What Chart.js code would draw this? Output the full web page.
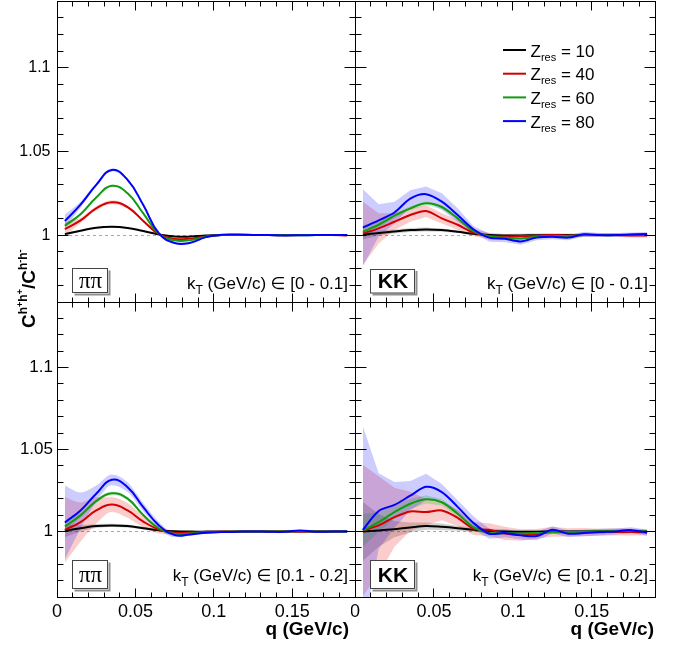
<!DOCTYPE html>
<html>
<head>
<meta charset="utf-8">
<script src="https://cdn.jsdelivr.net/npm/chart.js@4.4.0/dist/chart.umd.min.js"></script>
<style>
  body { margin: 0; background: #fff; }
  #wrap { position: relative; width: 685px; height: 648px; overflow: hidden; }
  canvas { position: absolute; top: 0; }
</style>
</head>
<body>
<div id="wrap">
  <canvas id="tl" width="685" height="648" style="left:0"></canvas>
  <canvas id="bl" width="685" height="648" style="left:0"></canvas>
  <canvas id="tr" width="334" height="648" style="left:351px"></canvas>
  <canvas id="br" width="334" height="648" style="left:351px"></canvas>
</div>
<script>
// q bin centres (GeV/c)
const q = [0.005, 0.015, 0.025, 0.035, 0.045, 0.055, 0.065, 0.075, 0.085, 0.095,
           0.105, 0.115, 0.125, 0.135, 0.145, 0.155, 0.165, 0.175, 0.185];
const zres = [10, 40, 60, 80];
const yLabelValues = [1, 1.05, 1.1];
const xLabelValues = [0, 0.05, 0.1, 0.15];

// pi pi, kT in [0 - 0.1]
const pi1_z10 = [1.0006, 1.0026, 1.0044, 1.0050, 1.0043, 1.0024, 1.0004, 0.9992, 0.9991, 0.9997, 1.0000, 1.0000, 1.0000, 1.0000, 1.0000, 1.0000, 1.0000, 1.0000, 1.0000];
const pi1_z40 = [1.0036, 1.0088, 1.0160, 1.0196, 1.0168, 1.0085, 1.0006, 0.9977, 0.9979, 0.9992, 1.0000, 1.0001, 1.0001, 1.0000, 0.9999, 1.0000, 1.0000, 1.0001, 0.9998];
const pi1_z60 = [1.0056, 1.0125, 1.0225, 1.0295, 1.0250, 1.0130, 1.0008, 0.9969, 0.9970, 0.9990, 1.0000, 1.0002, 1.0001, 1.0000, 0.9999, 0.9999, 1.0000, 1.0000, 1.0000];
const pi1_z80 = [1.0084, 1.0182, 1.0300, 1.0390, 1.0330, 1.0180, 1.0010, 0.9953, 0.9954, 0.9988, 1.0002, 1.0003, 1.0001, 1.0000, 0.9998, 0.9999, 1.0000, 1.0001, 1.0000];
const pi1_z10_err = [0.0008, 0.0005, 0.0004, 0.0004, 0.0004, 0.0003, 0.0003, 0.0003, 0.0002, 0.0002, 0.0002, 0.0002, 0.0002, 0.0002, 0.0002, 0.0002, 0.0002, 0.0002, 0.0002];
const pi1_z40_err = [0.0040, 0.0015, 0.0012, 0.0012, 0.0010, 0.0008, 0.0006, 0.0005, 0.0004, 0.0003, 0.0003, 0.0003, 0.0003, 0.0003, 0.0003, 0.0003, 0.0003, 0.0003, 0.0003];
const pi1_z60_err = [0.0015, 0.0008, 0.0006, 0.0006, 0.0005, 0.0005, 0.0004, 0.0004, 0.0003, 0.0003, 0.0003, 0.0003, 0.0003, 0.0003, 0.0003, 0.0003, 0.0003, 0.0003, 0.0003];
const pi1_z80_err = [0.0040, 0.0018, 0.0010, 0.0008, 0.0007, 0.0006, 0.0005, 0.0004, 0.0004, 0.0003, 0.0003, 0.0003, 0.0003, 0.0003, 0.0003, 0.0003, 0.0003, 0.0003, 0.0003];

// K K, kT in [0 - 0.1]
const k1_z10 = [1.0004, 1.0012, 1.0022, 1.0030, 1.0034, 1.0030, 1.0020, 1.0008, 1.0000, 0.9998, 0.9998, 0.9999, 1.0000, 1.0000, 1.0000, 1.0000, 1.0000, 1.0000, 1.0000];
const k1_z40 = [1.0010, 1.0040, 1.0080, 1.0120, 1.0144, 1.0100, 1.0062, 1.0015, 0.9994, 0.9992, 0.9994, 0.9996, 1.0000, 0.9998, 1.0000, 1.0000, 1.0000, 0.9998, 0.9998];
const k1_z60 = [1.0020, 1.0062, 1.0116, 1.0160, 1.0190, 1.0168, 1.0100, 1.0025, 0.9992, 0.9985, 0.9980, 0.9990, 0.9995, 0.9995, 1.0000, 1.0000, 1.0000, 1.0002, 1.0004];
const k1_z80 = [1.0045, 1.0088, 1.0135, 1.0218, 1.0245, 1.0200, 1.0120, 1.0035, 0.9985, 0.9978, 0.9962, 0.9985, 0.9990, 0.9985, 1.0005, 1.0000, 1.0000, 1.0003, 1.0006];
const k1_z10_err = [0.0030, 0.0015, 0.0012, 0.0012, 0.0012, 0.0010, 0.0008, 0.0006, 0.0005, 0.0005, 0.0004, 0.0004, 0.0004, 0.0004, 0.0004, 0.0004, 0.0004, 0.0004, 0.0004];
const k1_z40_err = [0.0190, 0.0090, 0.0050, 0.0040, 0.0035, 0.0030, 0.0030, 0.0020, 0.0020, 0.0015, 0.0015, 0.0015, 0.0012, 0.0012, 0.0012, 0.0012, 0.0012, 0.0012, 0.0012];
const k1_z60_err = [0.0040, 0.0020, 0.0015, 0.0012, 0.0012, 0.0012, 0.0010, 0.0010, 0.0008, 0.0008, 0.0008, 0.0008, 0.0008, 0.0008, 0.0008, 0.0008, 0.0008, 0.0008, 0.0008];
const k1_z80_err = [0.0230, 0.0096, 0.0065, 0.0050, 0.0045, 0.0050, 0.0040, 0.0020, 0.0025, 0.0020, 0.0020, 0.0015, 0.0015, 0.0015, 0.0015, 0.0012, 0.0012, 0.0012, 0.0012];

// pi pi, kT in [0.1 - 0.2]
const pi2_z10 = [1.0004, 1.0020, 1.0033, 1.0037, 1.0033, 1.0020, 1.0008, 1.0001, 0.9999, 0.9999, 1.0000, 1.0000, 1.0000, 1.0000, 1.0000, 1.0000, 1.0000, 1.0000, 1.0000];
const pi2_z40 = [1.0010, 1.0057, 1.0128, 1.0164, 1.0128, 1.0060, 1.0012, 0.9992, 0.9993, 0.9996, 0.9998, 0.9999, 1.0000, 1.0000, 1.0000, 1.0000, 1.0000, 1.0000, 1.0002];
const pi2_z60 = [1.0030, 1.0098, 1.0185, 1.0233, 1.0200, 1.0100, 1.0018, 0.9986, 0.9988, 0.9994, 0.9997, 0.9999, 1.0000, 1.0000, 0.9999, 1.0002, 1.0000, 1.0000, 1.0001];
const pi2_z80 = [1.0055, 1.0128, 1.0230, 1.0315, 1.0270, 1.0148, 1.0037, 0.9978, 0.9982, 0.9992, 0.9996, 0.9998, 1.0000, 0.9998, 0.9998, 1.0006, 0.9998, 0.9999, 1.0000];
const pi2_z10_err = [0.0040, 0.0020, 0.0012, 0.0010, 0.0010, 0.0008, 0.0006, 0.0005, 0.0004, 0.0003, 0.0003, 0.0003, 0.0003, 0.0003, 0.0003, 0.0003, 0.0003, 0.0003, 0.0003];
const pi2_z40_err = [0.0200, 0.0120, 0.0080, 0.0045, 0.0045, 0.0035, 0.0025, 0.0012, 0.0010, 0.0008, 0.0006, 0.0006, 0.0006, 0.0006, 0.0006, 0.0006, 0.0006, 0.0006, 0.0006];
const pi2_z60_err = [0.0030, 0.0015, 0.0010, 0.0010, 0.0010, 0.0008, 0.0006, 0.0005, 0.0004, 0.0004, 0.0004, 0.0004, 0.0004, 0.0004, 0.0004, 0.0004, 0.0004, 0.0004, 0.0004];
const pi2_z80_err = [0.0225, 0.0110, 0.0050, 0.0033, 0.0030, 0.0025, 0.0020, 0.0012, 0.0008, 0.0006, 0.0005, 0.0005, 0.0005, 0.0005, 0.0005, 0.0005, 0.0005, 0.0005, 0.0005];

// K K, kT in [0.1 - 0.2]
const k2_z10 = [1.0000, 1.0006, 1.0014, 1.0024, 1.0033, 1.0028, 1.0020, 1.0010, 1.0002, 0.9999, 0.9998, 0.9998, 1.0000, 1.0000, 1.0000, 1.0000, 1.0000, 1.0000, 1.0000];
const k2_z40 = [1.0006, 1.0037, 1.0087, 1.0122, 1.0118, 1.0128, 1.0083, 1.0018, 1.0010, 0.9988, 0.9978, 0.9985, 0.9998, 0.9994, 0.9996, 0.9995, 0.9998, 0.9996, 0.9995];
const k2_z60 = [1.0006, 1.0057, 1.0118, 1.0169, 1.0196, 1.0178, 1.0108, 1.0026, 0.9990, 0.9990, 0.9988, 0.9990, 0.9995, 0.9996, 0.9998, 1.0000, 1.0003, 1.0005, 0.9998];
const k2_z80 = [1.0010, 1.0125, 1.0162, 1.0218, 1.0272, 1.0240, 1.0150, 1.0052, 0.9986, 0.9990, 0.9976, 0.9972, 1.0010, 0.9986, 0.9990, 0.9996, 1.0000, 1.0008, 0.9992];
const k2_z10_err = [0.0180, 0.0100, 0.0050, 0.0030, 0.0022, 0.0020, 0.0015, 0.0012, 0.0010, 0.0008, 0.0008, 0.0008, 0.0008, 0.0008, 0.0008, 0.0008, 0.0008, 0.0008, 0.0008];
const k2_z40_err = [0.0400, 0.0300, 0.0180, 0.0120, 0.0080, 0.0060, 0.0050, 0.0040, 0.0040, 0.0040, 0.0035, 0.0030, 0.0030, 0.0025, 0.0025, 0.0022, 0.0022, 0.0020, 0.0020];
const k2_z60_err = [0.0100, 0.0060, 0.0040, 0.0030, 0.0025, 0.0020, 0.0018, 0.0015, 0.0012, 0.0010, 0.0010, 0.0010, 0.0010, 0.0010, 0.0010, 0.0010, 0.0010, 0.0010, 0.0010];
const k2_z80_err = [0.0630, 0.0230, 0.0140, 0.0090, 0.0080, 0.0050, 0.0040, 0.0040, 0.0030, 0.0025, 0.0025, 0.0025, 0.0022, 0.0020, 0.0020, 0.0020, 0.0018, 0.0018, 0.0018];

const SANS = "'Liberation Sans', 'DejaVu Sans', Arial, sans-serif";
const SERIF = "'Liberation Serif', 'DejaVu Serif', serif";
Chart.defaults.font.family = SANS;
Chart.defaults.color = '#000';

const lineColors = ['#000000', '#d40000', '#129b12', '#0000ff'];
const bandColors = ['rgba(0,0,0,0.18)', 'rgba(230,0,0,0.2)', 'rgba(0,170,0,0.2)', 'rgba(0,0,255,0.2)'];

const pts = (vals, errs, sign) => q.map((x, k) => ({ x: x, y: vals[k] + (errs ? sign * errs[k] : 0) }));

const buildDatasets = (vals, errs, smooth) => {
  const sets = [];
  vals.forEach((v, i) => {
    const common = {
      borderColor: 'rgba(0,0,0,0)', borderWidth: 0, pointRadius: 0,
      tension: 0, cubicInterpolationMode: smooth ? 'monotone' : 'default', order: 10 - i,
    };
    sets.push({ ...common, data: pts(v, errs[i], 1), fill: '+1', backgroundColor: bandColors[i] });
    sets.push({ ...common, data: pts(v, errs[i], -1), fill: false });
  });
  vals.forEach((v, i) => {
    sets.push({
      data: pts(v), fill: false, borderColor: lineColors[i], borderWidth: 2,
      pointRadius: 0, tension: smooth ? 0.45 : 0.3, order: 4 - i,
    });
  });
  return sets;
};

const drawRich = (ctx, parts, x, y, align) => {
  const widths = parts.map((p) => { ctx.font = p.font; return ctx.measureText(p.t).width; });
  const total = widths.reduce((s, w) => s + w, 0);
  let cx = align === 'right' ? x - total : x;
  ctx.textAlign = 'left';
  ctx.textBaseline = 'alphabetic';
  parts.forEach((p, i) => {
    ctx.font = p.font;
    ctx.fillText(p.t, cx, y + (p.dy || 0));
    cx += widths[i];
  });
};

// ROOT-like frame: dashed line at 1, box, inward ticks on all four sides
const rootAxes = {
  id: 'rootAxes',
  beforeDatasetsDraw(chart) {
    const { ctx, chartArea: a, scales: { y } } = chart;
    const py = Math.floor(y.getPixelForValue(1)) + 0.5;
    ctx.save();
    ctx.strokeStyle = '#a8a8a8';
    ctx.lineWidth = 1;
    ctx.setLineDash([3, 3]);
    ctx.beginPath();
    ctx.moveTo(a.left, py);
    ctx.lineTo(a.right, py);
    ctx.stroke();
    ctx.restore();
  },
  afterDatasetsDraw(chart) {
    const { ctx, chartArea: a, scales: { x, y } } = chart;
    const L = Math.floor(a.left) + 0.5, R = Math.floor(a.right) + 0.5;
    const T = Math.floor(a.top) + 0.5, B = Math.floor(a.bottom) + 0.5;
    ctx.save();
    ctx.strokeStyle = '#000';
    ctx.lineWidth = 1;
    ctx.strokeRect(L, T, R - L, B - T);
    ctx.beginPath();
    y.ticks.forEach((t) => {
      const p = Math.floor(y.getPixelForValue(t.value)) + 0.5;
      const len = Math.round(t.value * 100) % 5 === 0 ? 11 : 6;
      ctx.moveTo(L, p); ctx.lineTo(L + len, p);
      ctx.moveTo(R, p); ctx.lineTo(R - len, p);
    });
    x.ticks.forEach((t) => {
      const p = Math.floor(x.getPixelForValue(t.value)) + 0.5;
      const len = Math.round(t.value * 100) % 5 === 0 ? 9 : 5;
      ctx.moveTo(p, B); ctx.lineTo(p, B - len);
      ctx.moveTo(p, T); ctx.lineTo(p, T + len);
    });
    ctx.stroke();
    ctx.restore();
  },
};

const panelText = {
  id: 'panelText',
  afterDraw(chart, args, o) {
    const { ctx, chartArea: a } = chart;
    ctx.save();
    ctx.fillStyle = '#000';

    // species box
    const bx = a.left + 15.5, by = a.bottom - o.boxTop, bw = o.boxW, bh = o.boxH;
    ctx.fillStyle = '#909090';
    ctx.fillRect(bx + 2, by + 2, bw, bh);
    ctx.fillStyle = '#fff';
    ctx.fillRect(bx, by, bw, bh);
    ctx.strokeStyle = '#444';
    ctx.lineWidth = 1;
    ctx.strokeRect(Math.floor(bx) + 0.5, Math.floor(by) + 0.5, bw - 1, bh - 1);
    ctx.fillStyle = '#000';
    ctx.font = o.speciesFont;
    ctx.textAlign = 'center';
    ctx.textBaseline = 'middle';
    ctx.fillText(o.species, bx + bw / 2, by + bh / 2 + 1);

    // kT range
    drawRich(ctx, [
      { t: 'k', font: `17px ${SANS}` },
      { t: 'T', font: `12px ${SANS}`, dy: 5 },
      { t: ' (GeV/c) \u2208 ' + o.kt, font: `17px ${SANS}` },
    ], a.right - 7, a.bottom - o.ktUp, 'right');

    if (o.legend) {
      zres.forEach((z, i) => {
        const cy = a.top + 49 + i * 23.7;
        ctx.strokeStyle = lineColors[i];
        ctx.lineWidth = 2;
        ctx.beginPath();
        ctx.moveTo(a.left + 148, cy);
        ctx.lineTo(a.left + 171, cy);
        ctx.stroke();
        ctx.fillStyle = '#000';
        drawRich(ctx, [
          { t: 'Z', font: `17px ${SANS}` },
          { t: 'res', font: `11px ${SANS}`, dy: 4 },
          { t: ' = ' + z, font: `17px ${SANS}` },
        ], a.left + 175.5, cy + 6.5, 'left');
      });
    }

    if (o.xTitle) {
      ctx.fillStyle = '#000';
      drawRich(ctx, [{ t: 'q (GeV/c)', font: `bold 19px ${SANS}` }], a.right - o.xTitleIn, 635, 'right');
    }

    if (o.yTitle) {
      const big = `bold 19px ${SANS}`, sup = `bold 12px ${SANS}`, sup2 = `bold 9px ${SANS}`;
      ctx.translate(35, 328);
      ctx.rotate(-Math.PI / 2);
      ctx.fillStyle = '#000';
      drawRich(ctx, [
        { t: 'C', font: big },
        { t: 'h', font: sup, dy: -8 }, { t: '+', font: sup2, dy: -12 },
        { t: 'h', font: sup, dy: -8 }, { t: '+', font: sup2, dy: -12 },
        { t: '/C', font: big },
        { t: 'h', font: sup, dy: -8 }, { t: '-', font: sup2, dy: -12 },
        { t: 'h', font: sup, dy: -8 }, { t: '-', font: sup2, dy: -12 },
      ], 0, 0, 'left');
    }
    ctx.restore();
  },
};

const makePanel = (id, p) => {
  const ctx = document.getElementById(id);
  return new Chart(ctx, {
    type: 'line',
    data: { datasets: buildDatasets(p.vals, p.errs, p.smooth) },
    plugins: [rootAxes, panelText],
    options: {
      responsive: false,
      animation: false,
      devicePixelRatio: 1,
      layout: { padding: p.pad },
      plugins: {
        legend: { display: false },
        tooltip: { enabled: false },
        panelText: p.text,
      },
      scales: {
        x: {
          type: 'linear', min: 0, max: 0.19,
          grid: { display: false, drawTicks: false }, border: { display: false },
          afterBuildTicks: (s) => { s.ticks = Array.from({ length: 20 }, (_, k) => ({ value: k / 100 })); },
          afterFit: (s) => { s.height = p.xHeight; s.paddingLeft = 0; s.paddingRight = 0; },
          ticks: {
            display: p.xLabels, autoSkip: false, maxRotation: 0, padding: 4,
            font: { size: 18 },
            callback: (v) => (xLabelValues.some((l) => Math.abs(l - v) < 1e-6) ? String(+v.toFixed(2)) : ''),
          },
        },
        y: {
          type: 'linear', min: 0.96, max: 1.14,
          grid: { display: false, drawTicks: false }, border: { display: false },
          afterBuildTicks: (s) => { s.ticks = Array.from({ length: 19 }, (_, k) => ({ value: (96 + k) / 100 })); },
          afterFit: (s) => { s.width = p.yWidth; s.paddingTop = 0; s.paddingBottom = 0; },
          ticks: {
            display: p.yLabels, autoSkip: false, padding: p.yPad,
            font: { size: p.yFont },
            callback: (v) => (yLabelValues.some((l) => Math.abs(l - v) < 1e-6) ? String(+v.toFixed(2)) : ''),
          },
        },
      },
    },
  });
};

makePanel('tl', {
  vals: [pi1_z10, pi1_z40, pi1_z60, pi1_z80],
  errs: [pi1_z10_err, pi1_z40_err, pi1_z60_err, pi1_z80_err],
  smooth: true,
  pad: { left: 0, top: 1, right: 330, bottom: 346 },
  xHeight: 0, yWidth: 57, xLabels: false, yLabels: true, yPad: 6.5, yFont: 16,
  text: { species: '\u03c0\u03c0', speciesFont: `23px ${SERIF}`, boxW: 36, boxTop: 33.5, boxH: 25, kt: '[0 - 0.1]', ktUp: 13, yTitle: true },
});

makePanel('bl', {
  vals: [pi2_z10, pi2_z40, pi2_z60, pi2_z80],
  errs: [pi2_z10_err, pi2_z40_err, pi2_z60_err, pi2_z80_err],
  smooth: true,
  pad: { left: 0, top: 302, right: 330, bottom: 0 },
  xHeight: 51, yWidth: 57, xLabels: true, yLabels: true, yPad: 4, yFont: 17,
  text: { species: '\u03c0\u03c0', speciesFont: `23px ${SERIF}`, boxW: 36, boxTop: 36.5, boxH: 29, kt: '[0.1 - 0.2]', ktUp: 16.5, xTitle: true, xTitleIn: 6 },
});

makePanel('tr', {
  vals: [k1_z10, k1_z40, k1_z60, k1_z80],
  errs: [k1_z10_err, k1_z40_err, k1_z60_err, k1_z80_err],
  smooth: false,
  pad: { left: 0, top: 1, right: 30, bottom: 346 },
  xHeight: 0, yWidth: 4, xLabels: false, yLabels: false, yPad: 4, yFont: 16,
  text: { species: 'KK', speciesFont: `bold 21px ${SANS}`, boxW: 45, boxTop: 33, boxH: 24.5, kt: '[0 - 0.1]', ktUp: 13, legend: true },
});

makePanel('br', {
  vals: [k2_z10, k2_z40, k2_z60, k2_z80],
  errs: [k2_z10_err, k2_z40_err, k2_z60_err, k2_z80_err],
  smooth: false,
  pad: { left: 0, top: 302, right: 30, bottom: 0 },
  xHeight: 51, yWidth: 4, xLabels: true, yLabels: false, yPad: 4, yFont: 17,
  text: { species: 'KK', speciesFont: `bold 21px ${SANS}`, boxW: 45, boxTop: 36.5, boxH: 29, kt: '[0.1 - 0.2]', ktUp: 16.5, xTitle: true, xTitleIn: 1 },
});
</script>
</body>
</html>
